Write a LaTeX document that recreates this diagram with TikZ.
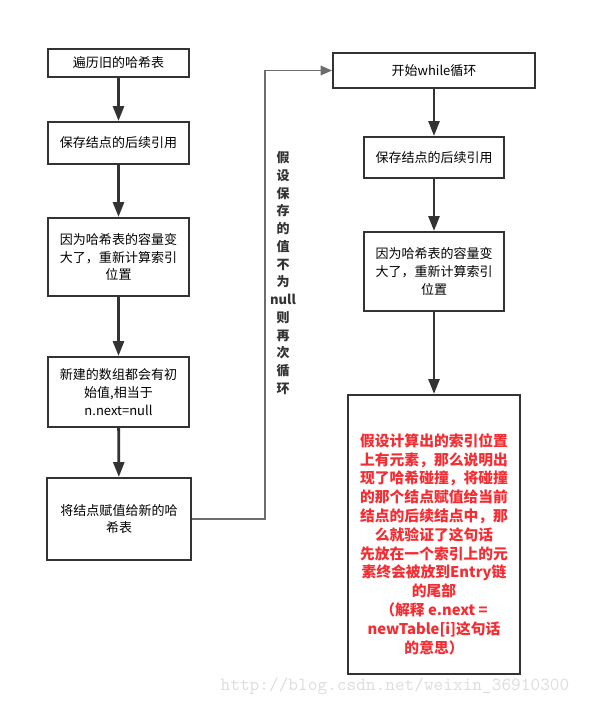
\documentclass[tikz,border=0pt]{standalone}
\usepackage{fontspec}
\setmainfont{Noto Sans CJK SC}
\usetikzlibrary{arrows.meta}

\definecolor{boxline}{RGB}{51,51,51}
\definecolor{notered}{RGB}{245,45,50}
\definecolor{markgray}{RGB}{222,222,222}

\tikzset{
  boxdim/.style 2 args={minimum width=#1*0.02cm, minimum height=#2*0.02cm},
  stepbox/.style={draw=boxline, line width=1.1pt, fill=white, align=center,
    inner sep=0pt, font=\fontsize{7.4}{10.2}\selectfont},
  flow/.style={-{Triangle[length=8.5pt,width=6.2pt]}, draw=boxline, line width=1.6pt},
  loopline/.style={-{Triangle[length=6.5pt,width=5.5pt]}, draw=gray!85!black, line width=0.8pt},
}

\begin{document}
\begin{tikzpicture}[x=0.02cm, y=-0.02cm]
    \useasboundingbox (0,0) rectangle (590,705);
    % left column: walking the old table
    \node[stepbox, boxdim={141}{28}] (old) at (118.5,63) {遍历旧的哈希表};
    \node[stepbox, boxdim={141}{42}] (keep) at (118.5,143) {保存结点的后续引用};
    \node[stepbox, boxdim={141}{78}] (rehash) at (118.5,257)
        {因为哈希表的容量变\\大了，重新计算索引\\位置};
    \node[stepbox, boxdim={141}{70}] (init) at (118.5,392)
        {新建的数组都会有初\\始值,相当于\\n.next=null};
    \node[stepbox, boxdim={144}{82}] (assign) at (119,519)
        {将结点赋值给新的哈\\希表};
    \foreach \a/\b in {old/keep, keep/rehash, rehash/init, init/assign} {
        \draw[flow] (\a) -- (\b);
    }
    % right column: the while loop
    \node[stepbox, boxdim={202}{35}] (loopstart) at (434,70.5) {开始while循环};
    \node[stepbox, boxdim={140}{41}] (keep2) at (434,157.5) {保存结点的后续引用};
    \node[stepbox, boxdim={140}{79}] (rehash2) at (434,271.5)
        {因为哈希表的容量变\\大了，重新计算索引\\位置};
    \node[stepbox, boxdim={172}{279}] (collide) at (434,534.5) {};
    \node[align=center, text=notered, inner sep=0pt,
        font=\fontsize{8.4}{10.7}\selectfont\bfseries] (note) at (434,544)
        {假设计算出的索引位置\\上有元素，那么说明出\\现了哈希碰撞，将碰撞\\的那个结点赋值给当前\\%
         结点的后续结点中，那\\么就验证了这句话\\先放在一个索引上的元\\素终会被放到Entry链\\%
         的尾部\\（解释 e.next =\\newTable[i]这句话\\的意思）};
    \foreach \a/\b in {loopstart/keep2, keep2/rehash2, rehash2/collide} {
        \draw[flow] (\a) -- (\b);
    }
    % back edge into the loop
    \draw[loopline] (assign.east) -- ++(73,0) |- (loopstart.west);
    \node[align=center, inner sep=0pt, text=boxline,
        font=\fontsize{7.4}{10.1}\selectfont\bfseries] (cond) at (283,273)
        {假\\设\\保\\存\\的\\值\\不\\为\\null\\则\\再\\次\\循\\环};
    \node[text=markgray, inner sep=0pt, font=\fontsize{10.5}{12}\selectfont\ttfamily]
        (mark) at (395,686) {http://blog.csdn.net/weixin\_36910300};
\end{tikzpicture}
\end{document}
